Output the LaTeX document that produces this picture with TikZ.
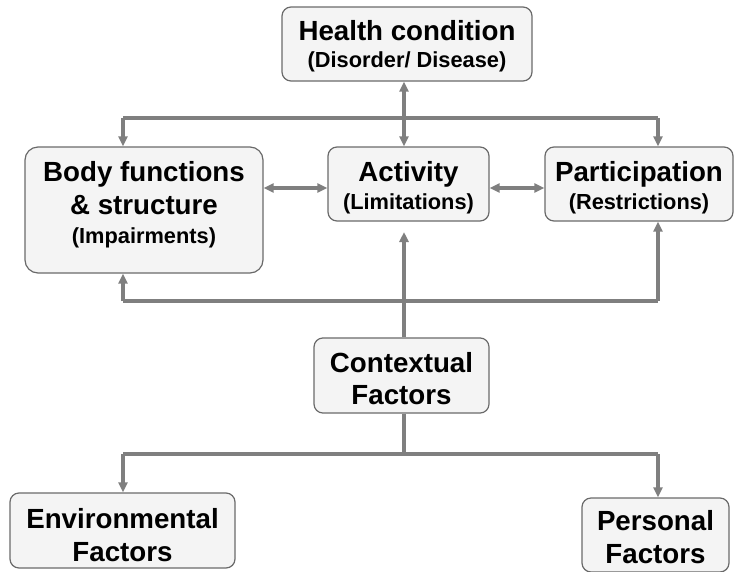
\documentclass[tikz,border=0pt]{standalone}
\usepackage{fontspec}
\setmainfont{Liberation Sans}
\usetikzlibrary{arrows.meta}
\definecolor{linegray}{HTML}{7F7F7F}
\definecolor{boxborder}{HTML}{6A6A6A}
\definecolor{boxfill}{HTML}{F4F4F4}
\newcommand\subt[1]{{\fontsize{21.8}{26}\selectfont #1}}
\newcommand\tstr[1]{\rule{0pt}{#1pt}}
\newcommand\bstr[1]{\rule[-#1pt]{0pt}{#1pt}}
\tikzset{
  box/.style={draw=boxborder, line width=1.2pt, fill=boxfill, rounded corners=9pt,
    align=center, inner sep=0pt, text=black,
    font=\bfseries\fontsize{27.7}{32}\selectfont},
  conn/.style={draw=linegray, line width=3.2pt},
  tip/.style={-{Triangle[length=10pt,width=9pt]}},
  dtip/.style={{Triangle[length=10pt,width=9pt]}-{Triangle[length=10pt,width=9pt]}},
}
\begin{document}
\begin{tikzpicture}[x=1pt,y=-1pt]
\useasboundingbox (0,0) rectangle (734,571);
% boxes
\node[box, minimum width=250, minimum height=74] (hc) at (407,44)
  {\tstr{33.5}Health condition\\[-5.2pt]\subt{(Disorder/ Disease)}\bstr{13.7}};
\node[box, minimum width=238, minimum height=126, rounded corners=13pt] (body) at (144,210)
  {\tstr{34.7}Body functions\\[0.3pt]\& structure\\[-2.5pt]\subt{(Impairments)}\bstr{29.5}};
\node[box, minimum width=161, minimum height=74] (act) at (408.5,184)
  {\tstr{34.7}Activity\\[-4.5pt]\subt{(Limitations)}\bstr{11.7}};
\node[box, minimum width=188, minimum height=74] (part) at (639,184)
  {\tstr{34.7}Participation\\[-4.5pt]\subt{(Restrictions)}\bstr{11.7}};
\node[box, minimum width=175, minimum height=75] (ctx) at (401.5,375.5)
  {\tstr{34.6}Contextual\\[-0.2pt]Factors\bstr{8.7}};
\node[box, minimum width=225, minimum height=75] (env) at (122.5,530.5)
  {\tstr{35.3}Environmental\\[1.2pt]Factors\bstr{6.4}};
\node[box, minimum width=147, minimum height=74] (pers) at (655.5,535)
  {\tstr{32.8}Personal\\[0.4pt]Factors\bstr{8.8}};
% coordinates
\coordinate (tl) at (123,118);
\coordinate (tr) at (658,118);
\coordinate (bl) at (123,301);
\coordinate (br) at (658,301);
\coordinate (cu) at (404,232);
\coordinate (dl) at (123,454);
\coordinate (dr) at (658,454);
\coordinate (ay) at ([yshift=-4pt]act.west);
\coordinate (by) at ([yshift=-4pt]act.east);
% top bus
\draw[conn] (tl) -- (tr);
\draw[conn,tip] (tl) -- (tl |- body.north);
\draw[conn,tip] (tr) -- (tr |- part.north);
\draw[conn,dtip] (hc.south -| cu) -- (act.north -| cu);
% horizontal links
\draw[conn,dtip] (body.east |- ay) -- (ay);
\draw[conn,dtip] (by) -- (by -| part.west);
% bottom bus
\draw[conn] (bl) -- (br);
\draw[conn,tip] (bl) -- (bl |- body.south);
\draw[conn,tip] (br) -- (br |- part.south);
\draw[conn,tip] (ctx.north -| cu) -- (cu);
% contextual factors
\draw[conn] (ctx.south -| cu) -- (cu |- dl);
\draw[conn] (dl) -- (dr);
\draw[conn,tip] (dl) -- (dl |- env.north);
\draw[conn,tip] (dr) -- (dr |- pers.north);
\end{tikzpicture}
\end{document}
